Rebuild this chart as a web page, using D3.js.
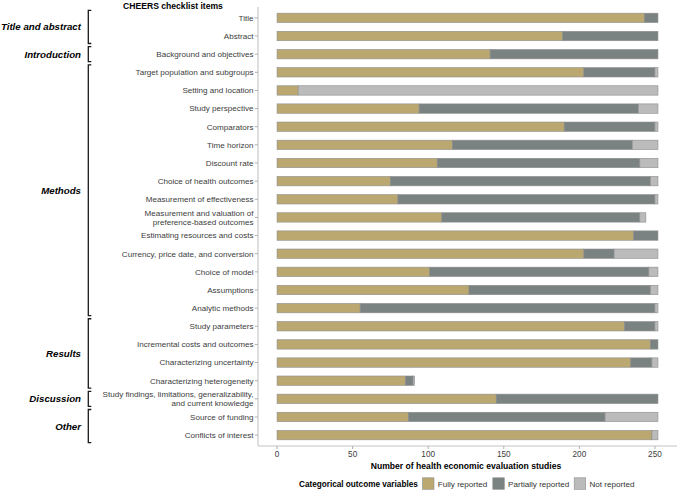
<!DOCTYPE html>
<html>
<head>
<meta charset="utf-8">
<script src="https://cdn.jsdelivr.net/npm/d3@7"></script>
<style>
  body { margin: 0; background: #fff; }
  svg { font-family: "Liberation Sans", Arial, sans-serif; }
</style>
</head>
<body>
<div id="chart"></div>
<script>
// checklist items, top to bottom
const items = [
  "Title", "Abstract", "Background and objectives", "Target population and subgroups",
  "Setting and location", "Study perspective", "Comparators", "Time horizon", "Discount rate",
  "Choice of health outcomes", "Measurement of effectiveness",
  "Measurement and valuation of\npreference-based outcomes",
  "Estimating resources and costs", "Currency, price date, and conversion", "Choice of model",
  "Assumptions", "Analytic methods", "Study parameters", "Incremental costs and outcomes",
  "Characterizing uncertainty", "Characterizing heterogeneity",
  "Study findings, limitations, generalizability,\nand current knowledge",
  "Source of funding", "Conflicts of interest"
];
const fully     = [243, 189, 141, 203, 14, 94, 190, 116, 106, 75, 80, 109, 236, 203, 101, 127, 55, 230, 247, 234, 85, 145, 87, 248];
const partially = [9, 63, 111, 47, 0, 145, 60, 119, 134, 172, 170, 131, 16, 20, 145, 120, 195, 20, 5, 14, 5, 107, 130, 0];
const notRep    = [0, 0, 0, 2, 238, 13, 2, 17, 12, 5, 2, 4, 0, 29, 6, 5, 2, 2, 0, 4, 1, 0, 35, 4];

const groups = [
  { name: "Title and abstract", from: 0, to: 1 },
  { name: "Introduction", from: 2, to: 2 },
  { name: "Methods", from: 3, to: 16 },
  { name: "Results", from: 17, to: 20 },
  { name: "Discussion", from: 21, to: 21 },
  { name: "Other", from: 22, to: 23 }
];
const seriesNames = ["Fully reported", "Partially reported", "Not reported"];
const colors = ["#bba871", "#7a8382", "#bbbbbb"];
const xTicks = [0, 50, 100, 150, 200, 250];

const width = 677, height = 490;
const svg = d3.select("#chart").append("svg")
    .attr("width", width).attr("height", height);

const x = d3.scaleLinear().domain([-12.6, 264.6]).range([258, 677]);
const y = d3.scalePoint().domain(d3.range(items.length)).range([7, 446]).padding(0.6);
const barH = 9.4;

// stacked data
const rows = items.map((d, i) => ({ i, v: [fully[i], partially[i], notRep[i]] }));
const stackData = rows.map(r => {
  let acc = 0;
  return r.v.map((v, k) => { const s = { i: r.i, k, x0: acc, x1: acc + v }; acc += v; return s; });
}).flat().filter(d => d.x1 > d.x0);

svg.append("g").selectAll("rect").data(stackData).join("rect")
    .attr("x", d => x(d.x0)).attr("width", d => x(d.x1) - x(d.x0))
    .attr("y", d => y(d.i) - barH / 2).attr("height", barH)
    .attr("fill", d => colors[d.k])
    .attr("stroke", "#8e8e8e").attr("stroke-width", 0.6);

// axes lines
svg.append("line").attr("x1", 258).attr("x2", 258).attr("y1", 7).attr("y2", 446)
    .attr("stroke", "#c4c4c4").attr("stroke-width", 1.1);
svg.append("line").attr("x1", 258).attr("x2", 677).attr("y1", 446).attr("y2", 446)
    .attr("stroke", "#c4c4c4").attr("stroke-width", 1.1);

// x ticks
const xt = svg.append("g").selectAll("g").data(xTicks).join("g")
    .attr("transform", d => `translate(${x(d)},0)`);
xt.append("line").attr("y1", 446).attr("y2", 449).attr("stroke", "#b0b0b0");
xt.append("text").attr("y", 456.5).attr("text-anchor", "middle")
    .attr("font-size", 8.2).attr("fill", "#3d3d3d").text(d => d);

// y ticks + labels
const yt = svg.append("g").selectAll("g").data(items).join("g")
    .attr("transform", (d, i) => `translate(0,${y(i)})`);
yt.append("line").attr("x1", 254.8).attr("x2", 258).attr("stroke", "#b0b0b0");
yt.each(function (d) {
  const lines = d.split("\n");
  const t = d3.select(this).append("text").attr("text-anchor", "end")
      .attr("font-size", 8.1).attr("fill", "#3d3d3d");
  lines.forEach((l, j) => {
    t.append("tspan").attr("x", 253.5)
        .attr("y", 2.9 + (j - (lines.length - 1) / 2) * 9).text(l);
  });
});

// titles
svg.append("text").attr("x", 173).attr("y", 8.5).attr("text-anchor", "middle")
    .attr("font-size", 8.6).attr("font-weight", "bold").attr("fill", "#000")
    .text("CHEERS checklist items");
svg.append("text").attr("x", 466).attr("y", 469.2).attr("text-anchor", "middle")
    .attr("font-size", 8.6).attr("font-weight", "bold").attr("fill", "#000")
    .text("Number of health economic evaluation studies");

// group brackets
const bx = 88.3, hook = 3, ext = 7.5;
const gg = svg.append("g").selectAll("g").data(groups).join("g");
gg.append("path")
    .attr("d", d => {
      const t = y(d.from) - ext, b = y(d.to) + ext;
      return `M${bx + hook},${t}H${bx}V${b}H${bx + hook}`;
    })
    .attr("fill", "none").attr("stroke", "#1a1a1a").attr("stroke-width", 1.3);
gg.append("text")
    .attr("x", 81).attr("y", d => (y(d.from) + y(d.to)) / 2 + 3.5)
    .attr("text-anchor", "end").attr("font-size", 9.7)
    .attr("font-weight", "bold").attr("font-style", "italic").attr("fill", "#000")
    .text(d => d.name);

// legend
const lg = svg.append("g");
lg.append("text").attr("x", 299).attr("y", 486.5).attr("font-size", 8.2)
    .attr("font-weight", "bold").attr("fill", "#000").text("Categorical outcome variables");
const keyX = [422.5, 492.8, 574.2];
seriesNames.forEach((s, k) => {
  lg.append("rect").attr("x", keyX[k]).attr("y", 477.8).attr("width", 11.5).attr("height", 11.5)
      .attr("fill", colors[k]).attr("stroke", "#8e8e8e").attr("stroke-width", 0.6);
  lg.append("text").attr("x", keyX[k] + 15.3).attr("y", 486.5).attr("font-size", 8.1)
      .attr("fill", "#333").text(s);
});
</script>
</body>
</html>
